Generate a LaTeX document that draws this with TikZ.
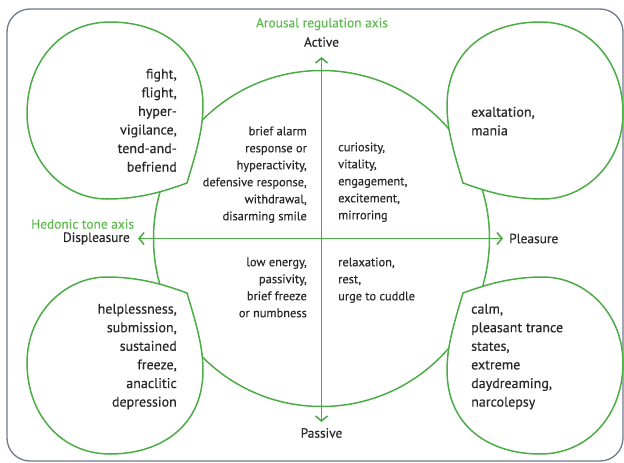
\documentclass[tikz,border=0pt]{standalone}
\usepackage{fontspec}
\setmainfont{PT Sans}[RawFeature={embolden=0.35}]
\usetikzlibrary{arrows.meta}
\definecolor{lg}{RGB}{76,172,70}
\definecolor{lgt}{RGB}{96,186,80}
\definecolor{tx}{RGB}{40,40,40}
\definecolor{frame}{RGB}{112,122,138}
\tikzset{
  ln/.style={draw=lg, line width=1.5pt},
  axisline/.style={draw=lg, line width=1.6pt, {Straight Barb[length=5pt,width=12pt]}-{Straight Barb[length=5pt,width=12pt]}},
  blob/.pic={\path[ln, fill=white] (72,72) .. controls (80,45) and (88,20) .. (88,-5)
      .. controls (88,-62) and (45,-89) .. (-5,-89)
      .. controls (-55,-89) and (-88,-48) .. (-88,2)
      .. controls (-88,52) and (-50,88) .. (-8,88)
      .. controls (25,88) and (50,80) .. (72,72) -- cycle;},
  smalltxt/.style={text=tx, inner sep=0pt, font=\fontsize{12.4}{17}\selectfont},
  bigtxt/.style={text=tx, inner sep=0pt, font=\fontsize{14}{18.6}\selectfont},
  axlabel/.style={text=tx, inner sep=0pt, font=\fontsize{13.4}{15}\selectfont},
  grlabel/.style={text=lgt, inner sep=0pt, font=\fontsize{13.4}{15}\selectfont},
}
\begin{document}
\begin{tikzpicture}[x=1pt, y=-1pt]
\useasboundingbox (0,0) rectangle (624,463);
\draw[frame, line width=1.3pt, rounded corners=23pt] (7,9) rectangle (623,461);
\node[ln, circle, minimum size=336pt, inner sep=0pt] (c) at (321.5,238.5) {};
\coordinate (atop) at (321.5,57);
\coordinate (abot) at (321.5,422);
\coordinate (aleft) at (138,238.5);
\coordinate (aright) at (503,238.5);
\draw[axisline] (abot) -- (atop);
\draw[axisline] (aleft) -- (aright);
\pic (tl) at (115,111) {blob};
\pic[xscale=-1] (tr) at (535,111) {blob};
\pic[yscale=-1] (bl) at (115,365) {blob};
\pic[xscale=-1, yscale=-1] (br) at (535,365) {blob};
% labels
\node[grlabel] (arl) at (322,24) {Arousal regulation axis};
\node[axlabel] (act) at (321.5,42) {Active};
\node[axlabel] (pas) at (321.5,433) {Passive};
\node[grlabel, anchor=west] (htl) at (31,224) {Hedonic tone axis};
\node[axlabel, anchor=east] (dis) at (130,238.5) {Displeasure};
\node[axlabel, anchor=west] (ple) at (509,238.5) {Pleasure};
% blob texts
\node[bigtxt, align=right, anchor=north east] (ttl) at (177,68.6) {fight,\\flight,\\hyper-\\vigilance,\\tend-and-\\befriend};
\node[bigtxt, align=left, anchor=north west] (ttr) at (471,106.6) {exaltation,\\mania};
\node[bigtxt, align=right, anchor=north east] (tbl) at (177,303.6) {helplessness,\\submission,\\sustained\\freeze,\\anaclitic\\depression};
\node[bigtxt, align=left, anchor=north west] (tbr) at (471,303.6) {calm,\\pleasant trance\\states,\\extreme\\daydreaming,\\narcolepsy};
% circle texts
\node[smalltxt, align=right, anchor=north east] (ctl) at (307,126.3) {brief alarm\\response or\\hyperactivity,\\defensive response,\\withdrawal,\\disarming smile};
\node[smalltxt, align=left, anchor=north west] (ctr) at (338,142.3) {curiosity,\\vitality,\\engagement,\\excitement,\\mirroring};
\node[smalltxt, align=right, anchor=north east] (cbl) at (307,257.3) {low energy,\\passivity,\\brief freeze\\or numbness};
\node[smalltxt, align=left, anchor=north west] (cbr) at (338,257.3) {relaxation,\\rest,\\urge to cuddle};
\end{tikzpicture}
\end{document}
